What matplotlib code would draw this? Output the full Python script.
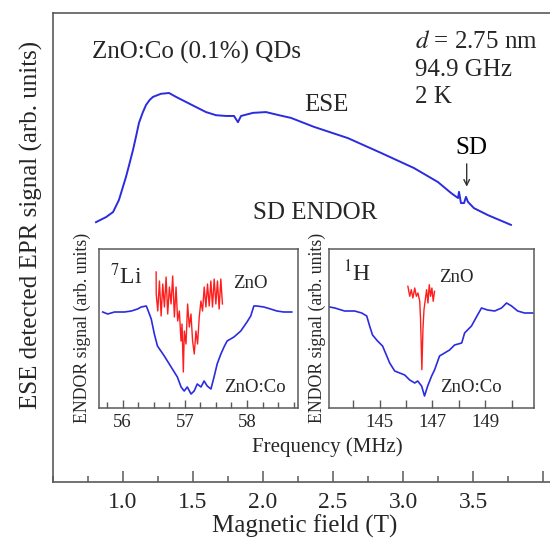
import matplotlib.pyplot as plt
from matplotlib.ticker import MultipleLocator, FixedLocator

plt.rcParams['font.family'] = ['Liberation Serif', 'DejaVu Serif']
plt.rcParams['mathtext.fontset'] = 'stix'

# ESE detected EPR spectrum (arb. units)
ese_field = [0.807, 0.879, 0.929, 0.971, 1.021, 1.046, 1.071, 1.093, 1.114, 1.139,
             1.164, 1.190, 1.214, 1.271, 1.329, 1.379, 1.450, 1.521, 1.593, 1.664,
             1.736, 1.793, 1.821, 1.843, 1.929, 2.021, 2.114, 2.200, 2.364, 2.607,
             2.843, 3.079, 3.250, 3.343, 3.393, 3.400, 3.414, 3.436, 3.450, 3.464,
             3.507, 3.607, 3.771]
ese_signal = [0.668, 0.681, 0.694, 0.725, 0.784, 0.818, 0.853, 0.888, 0.923, 0.948,
              0.969, 0.982, 0.990, 0.998, 1.000, 0.990, 0.977, 0.964, 0.951, 0.943,
              0.941, 0.941, 0.925, 0.941, 0.949, 0.951, 0.943, 0.936, 0.913, 0.884,
              0.846, 0.807, 0.771, 0.743, 0.730, 0.746, 0.717, 0.717, 0.733, 0.720,
              0.704, 0.686, 0.661]

# 7Li ENDOR, ZnO:Co (blue) and ZnO (red)
li_co_freq = [55.68, 55.76, 55.87, 56.03, 56.14, 56.24, 56.30, 56.38, 56.40, 56.46,
              56.51, 56.56, 56.67, 56.78, 56.88, 56.94, 56.99, 57.04, 57.10, 57.15,
              57.20, 57.26, 57.31, 57.36, 57.42, 57.47, 57.52, 57.58, 57.63, 57.68,
              57.79, 57.90, 58.00, 58.06, 58.11, 58.16, 58.27, 58.38, 58.48, 58.59, 58.72]
li_co_sig = [96, 94, 96, 96, 97, 99, 101, 102, 99, 89,
             74, 62, 52, 41, 31, 21, 17, 21, 14, 17,
             24, 21, 27, 22, 19, 31, 44, 54, 61, 67,
             71, 77, 86, 92, 102, 102, 101, 99, 97, 96, 96]
li_zno_freq = [56.539, 56.540, 56.565, 56.592, 56.619, 56.645, 56.672, 56.699, 56.725,
               56.752, 56.779, 56.805, 56.832, 56.859, 56.885, 56.912, 56.939, 56.955,
               56.976, 56.992, 57.019, 57.045, 57.072, 57.099, 57.125, 57.152, 57.179,
               57.205, 57.232, 57.259, 57.285, 57.312, 57.339, 57.365, 57.392, 57.419,
               57.445, 57.472, 57.499, 57.525, 57.552, 57.579, 57.605]
li_zno_sig = [136, 114, 97, 127, 92, 124, 101, 131, 94,
              121, 104, 132, 91, 121, 87, 97, 67, 84,
              36, 77, 64, 104, 81, 94, 67, 54, 77,
              64, 91, 107, 97, 121, 101, 124, 102, 127,
              101, 129, 104, 127, 99, 129, 104]

# 1H ENDOR, ZnO:Co (blue) and ZnO (red)
h_co_freq = [142.92, 143.30, 143.67, 144.05, 144.32, 144.51, 144.62, 144.73, 144.92,
             145.11, 145.27, 145.38, 145.57, 145.76, 145.95, 146.14, 146.33, 146.44,
             146.59, 146.70, 146.82, 146.97, 147.08, 147.27, 147.46, 147.65, 147.84,
             148.11, 148.22, 148.48, 148.71, 148.86, 149.09, 149.36, 149.62, 149.81,
             150.00, 150.23, 150.49, 150.80]
h_co_sig = [102, 100, 97, 97, 95, 92, 82, 73, 67,
            62, 52, 45, 37, 35, 33, 28, 25, 27,
            22, 12, 22, 32, 38, 52, 55, 58, 63,
            65, 75, 82, 93, 100, 98, 97, 100, 105,
            102, 97, 95, 95]
h_zno_freq = [146.07, 146.14, 146.20, 146.26, 146.33, 146.39, 146.45, 146.52, 146.55,
              146.60, 146.64, 146.68, 146.73, 146.78, 146.83, 146.88, 146.93, 146.98,
              147.03, 147.08]
h_zno_sig = [121.7, 111.7, 118.3, 110, 120, 111.7, 115, 106.7, 88.3,
             38.3, 78.3, 98.3, 108.3, 118.3, 105, 123.3, 111.7, 120, 106.7, 116.7]

blue = '#2b2be0'
red = '#ff1e1e'
ink = '#262626'
frame = '#5a5a5a'

fig = plt.figure(figsize=(5.5, 5.45), dpi=100)

# main panel
ax = fig.add_axes([53 / 550, 63 / 545, 504 / 550, 469 / 545])
ax.plot(ese_field, ese_signal, color=blue, lw=1.4)
ax.set_xlim(0.5, 4.1)
ax.set_ylim(0, 1.2057)
ax.spines['right'].set_visible(False)
for s in ax.spines.values():
    s.set_color(frame)
    s.set_linewidth(1.2)
ax.set_yticks([])
ax.xaxis.set_minor_locator(MultipleLocator(0.25))
ax.set_xticks([1.0, 1.5, 2.0, 2.5, 3.0, 3.5, 4.0])
ax.set_xticklabels(['1.0', '1.5', '2.0', '2.5', '3.0', '3.5', ''])
ax.tick_params(axis='x', which='major', direction='in', length=8, width=1.1,
               color=frame, labelsize=17, labelcolor=ink, pad=7)
ax.tick_params(axis='x', which='minor', direction='in', length=4, width=1.1, color=frame)
ax.set_xlabel('Magnetic field (T)', fontsize=18, color=ink, labelpad=1)

fig.text(31 / 550, 1 - 225 / 545, 'ESE detected EPR signal (arb. units)',
         rotation=90, ha='center', va='center', fontsize=18, color=ink)

fig.text(92 / 550, 1 - 52 / 545, 'ZnO:Co (0.1%) QDs',
         ha='left', va='center', fontsize=18, color=ink)
for i, line in enumerate(['$d$ = 2.75 nm', '94.9 GHz', '2 K']):
    fig.text(415 / 550, 1 - (42 + 27.5 * i) / 545, line,
             ha='left', va='center', fontsize=18, color=ink)
fig.text(326 / 550, 1 - 105 / 545, 'ESE', ha='center', va='center', fontsize=18, color=ink)
fig.text(253 / 550, 1 - 213 / 545, 'SD ENDOR', ha='left', va='center', fontsize=18, color=ink)
fig.text(471 / 550, 1 - 148 / 545, 'SD', ha='center', va='center', fontsize=18, color='black')
ax.annotate('', xy=(3.455, 0.752), xytext=(3.455, 0.825),
            arrowprops=dict(arrowstyle='->', color='#333333', lw=1.0))

# inset panels
inset_bottom = 137 / 545
inset_height = 159 / 545
ax_li = fig.add_axes([99 / 550, inset_bottom, 199 / 550, inset_height])
ax_h = fig.add_axes([329 / 550, inset_bottom, 205 / 550, inset_height])

ax_li.plot(li_co_freq, li_co_sig, color=blue, lw=1.2)
ax_li.plot(li_zno_freq, li_zno_sig, color=red, lw=1.0)
ax_li.set_xlim(55.62, 58.82)
ax_li.xaxis.set_major_locator(FixedLocator([56, 57, 58]))
ax_li.xaxis.set_minor_locator(MultipleLocator(0.25))
ax_li.tick_params(axis='x', which='minor', direction='in', length=4, width=1.0, color=frame)

ax_h.plot(h_co_freq, h_co_sig, color=blue, lw=1.2)
ax_h.plot(h_zno_freq, h_zno_sig, color=red, lw=1.0)
ax_h.set_xlim(143.08, 150.85)
ax_h.xaxis.set_major_locator(FixedLocator([145, 147, 149]))
ax_h.xaxis.set_minor_locator(FixedLocator([144, 146, 148, 150]))
ax_h.tick_params(axis='x', which='minor', direction='in', length=6, width=1.0, color=frame)

for a in (ax_li, ax_h):
    a.set_ylim(0, 159)
    a.set_yticks([])
    a.tick_params(axis='x', which='major', direction='in', length=6, width=1.0,
                  color=frame, labelsize=13.5, labelcolor=ink, pad=4)
    for s in a.spines.values():
        s.set_color(frame)
        s.set_linewidth(1.1)

fig.text(110 / 550, 1 - 276 / 545, '$^{7}$Li', ha='left', va='center', fontsize=17, color=ink)
fig.text(343 / 550, 1 - 274 / 545, '$^{1}$H', ha='left', va='center', fontsize=17, color=ink)
fig.text(250 / 550, 1 - 284 / 545, 'ZnO', ha='center', va='center', fontsize=13.5, color=ink)
fig.text(255 / 550, 1 - 387 / 545, 'ZnO:Co', ha='center', va='center', fontsize=13.5, color=ink)
fig.text(456 / 550, 1 - 277 / 545, 'ZnO', ha='center', va='center', fontsize=13.5, color=ink)
fig.text(471 / 550, 1 - 387 / 545, 'ZnO:Co', ha='center', va='center', fontsize=13.5, color=ink)

for xc in (82, 317):
    fig.text(xc / 550, 1 - 328 / 545, 'ENDOR signal (arb. units)', rotation=90,
             ha='center', va='center', fontsize=12.8, color=ink)
fig.text(327 / 550, 1 - 447 / 545, 'Frequency (MHz)', ha='center', va='center',
         fontsize=15, color=ink)

fig.savefig('out.png', dpi=100)
